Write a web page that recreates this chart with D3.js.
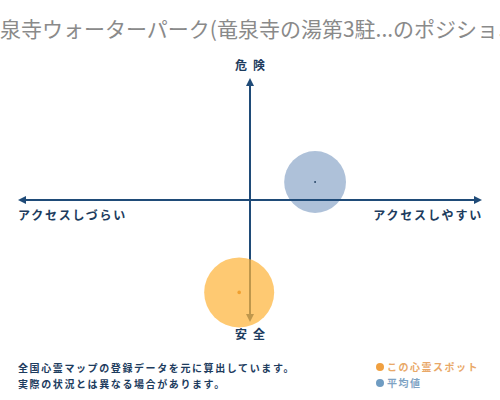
<!DOCTYPE html>
<html lang="ja">
<head>
  <meta charset="UTF-8">
  <title>ポジショニングマップ</title>
  <script src="https://d3js.org/d3.v7.min.js"></script>
  <style>
    body {
      margin: 0;
      overflow: hidden;
      background-color: #fff;
      font-family: "Noto Sans CJK JP", sans-serif;
    }

    .axis-line {
      stroke: #1f4b78;
      stroke-width: 2;
    }

    .axis-label {
      fill: #1d3c5e;
      font-size: 12px;
      font-weight: bold;
    }

    .note {
      fill: #1d3c5e;
      font-size: 10px;
      font-weight: bold;
      letter-spacing: 1.6px;
    }
  </style>
</head>
<body>
  <svg id="chart"></svg>

  <script>
    const width = 500;
    const height = 400;

    // chart data
    const titleText = "竜泉寺ウォーターパーク(竜泉寺の湯第3駐...のポジショニングマップ";
    const seriesNames = ["この心霊スポット", "平均値"];
    const accessValues = [-0.47, 2.83];   // x: アクセスしづらい(-) .. アクセスしやすい(+)
    const dangerValues = [-7.7, 1.5];     // y: 安全(-) .. 危険(+)
    const sizeValues = [1.0, 0.78];
    const axisLabels = ["アクセスしづらい", "アクセスしやすい", "危険", "安全"];
    const notes = ["全国心霊マップの登録データを元に算出しています。", "実際の状況とは異なる場合があります。"];

    const fills = ["rgba(253,180,60,0.72)", "rgba(120,152,192,0.6)"];
    const dotColors = ["#f0a030", "#1d3c5e"];
    const legendDot = ["#f0a040", "#6f9cc2"];
    const legendText = ["#e9a868", "#7fa3c4"];

    const svg = d3.select("#chart")
      .attr("width", width)
      .attr("height", height);

    const x = d3.scaleLinear().domain([-10, 10]).range([20, 480]);
    const y = d3.scaleLinear().domain([-10, 10]).range([320, 80]);
    const r = d3.scaleSqrt().domain([0, 1]).range([0, 35]);

    // title (overflows the frame on both sides, like the original)
    svg.append("text")
      .attr("x", -21)
      .attr("y", 37)
      .attr("fill", "#8a8a8a")
      .attr("font-size", 21)
      .text(titleText);

    // arrow marker
    svg.append("defs").append("marker")
      .attr("id", "arrow")
      .attr("viewBox", "0 0 10 10")
      .attr("refX", 5)
      .attr("refY", 5)
      .attr("markerWidth", 4)
      .attr("markerHeight", 4)
      .attr("orient", "auto-start-reverse")
      .append("path")
      .attr("d", "M0,0L10,5L0,10z")
      .attr("fill", "#1f4b78");

    const points = seriesNames.map((name, i) => ({
      name: name,
      ax: accessValues[i],
      dg: dangerValues[i],
      size: sizeValues[i],
      i: i
    }));

    // average bubble sits under the axes
    const avg = points[1];
    svg.append("circle")
      .attr("cx", x(avg.ax))
      .attr("cy", y(avg.dg))
      .attr("r", r(avg.size))
      .attr("fill", fills[1]);

    // axes
    svg.append("line")
      .attr("class", "axis-line")
      .attr("x1", x(-10) + 2).attr("x2", x(10) - 2)
      .attr("y1", y(0)).attr("y2", y(0))
      .attr("marker-start", "url(#arrow)")
      .attr("marker-end", "url(#arrow)");

    svg.append("line")
      .attr("class", "axis-line")
      .attr("x1", x(0)).attr("x2", x(0))
      .attr("y1", y(10) + 2).attr("y2", y(-10) - 2)
      .attr("marker-start", "url(#arrow)")
      .attr("marker-end", "url(#arrow)");

    // spot bubble sits over the axes
    const spot = points[0];
    svg.append("circle")
      .attr("cx", x(spot.ax))
      .attr("cy", y(spot.dg))
      .attr("r", r(spot.size))
      .attr("fill", fills[0]);

    // centre dots
    svg.selectAll(".centre")
      .data(points)
      .enter().append("circle")
      .attr("class", "centre")
      .attr("cx", d => x(d.ax))
      .attr("cy", d => y(d.dg))
      .attr("r", d => d.i === 0 ? 1.8 : 0.9)
      .attr("fill", d => dotColors[d.i]);

    // axis labels
    svg.append("text")
      .attr("class", "axis-label")
      .attr("x", 18).attr("y", 220)
      .attr("letter-spacing", 1.8)
      .text(axisLabels[0]);

    svg.append("text")
      .attr("class", "axis-label")
      .attr("x", 483).attr("y", 220)
      .attr("text-anchor", "end")
      .attr("letter-spacing", 1.8)
      .text(axisLabels[1]);

    svg.append("text")
      .attr("class", "axis-label")
      .attr("x", x(0) + 3).attr("y", 70)
      .attr("text-anchor", "middle")
      .attr("letter-spacing", 6)
      .text(axisLabels[2]);

    svg.append("text")
      .attr("class", "axis-label")
      .attr("x", x(0) + 3).attr("y", 339)
      .attr("text-anchor", "middle")
      .attr("letter-spacing", 6)
      .text(axisLabels[3]);

    // footnote
    svg.selectAll(".note")
      .data(notes)
      .enter().append("text")
      .attr("class", "note")
      .attr("x", 18)
      .attr("y", (d, i) => 372 + i * 16)
      .text(d => d);

    // legend
    const legend = svg.selectAll(".legend")
      .data(seriesNames)
      .enter().append("g")
      .attr("class", "legend")
      .attr("transform", (d, i) => `translate(380, ${367 + i * 16})`);

    legend.append("circle")
      .attr("r", 4)
      .attr("fill", (d, i) => legendDot[i]);

    legend.append("text")
      .attr("x", 7)
      .attr("y", 4)
      .attr("font-size", 10)
      .attr("font-weight", "bold")
      .attr("letter-spacing", 1.5)
      .attr("fill", (d, i) => legendText[i])
      .text(d => d);
  </script>
</body>
</html>
